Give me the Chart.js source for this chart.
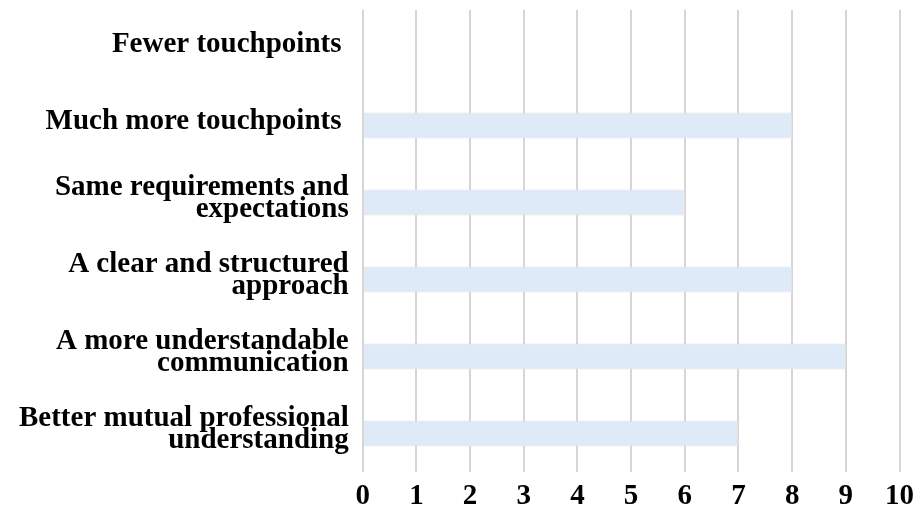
<!DOCTYPE html>
<html>
<head>
<meta charset="utf-8">
<script src="https://cdn.jsdelivr.net/npm/chart.js@4"></script>
<style>
  html, body { margin: 0; padding: 0; background: #fff; }
  #wrap { width: 924px; height: 521px; }
</style>
</head>
<body>
<div id="wrap"><canvas id="myChart"></canvas></div>
<script>
// answers, top to bottom (multi-line labels split into rows)
const categories = [
    ['Fewer touchpoints '],
    ['Much more touchpoints '],
    ['Same requirements and', 'expectations'],
    ['A clear and structured', 'approach'],
    ['A more understandable', 'communication'],
    ['Better mutual professional', 'understanding']
]
const counts = [0, 8, 6, 8, 9, 7]
const xTicks = [0, 1, 2, 3, 4, 5, 6, 7, 8, 9, 10]

const serif = '"Liberation Serif", "Times New Roman", serif'

const ctx = document.getElementById('myChart').getContext('2d')

new Chart(ctx, {
    type: 'bar',
    data: {
        labels: categories,
        datasets: [{
            data: counts,
            backgroundColor: '#deeaf7',
            borderColor: '#e2e2e2',
            borderWidth: 1,
            borderSkipped: false,
            barPercentage: 0.34,
            categoryPercentage: 1
        }]
    },
    options: {
        indexAxis: 'y',
        responsive: true,
        maintainAspectRatio: false,
        animation: false,
        layout: { padding: { top: 10, right: 18, bottom: 0, left: 5 } },
        plugins: {
            legend: { display: false },
            tooltip: { enabled: false }
        },
        scales: {
            x: {
                min: 0,
                max: 10,
                afterBuildTicks: axis => { axis.ticks = xTicks.map(v => ({ value: v })) },
                grid: { color: '#d6d6d6', lineWidth: 2, drawTicks: false },
                border: { display: false },
                ticks: { color: '#000', font: { family: serif, size: 29, weight: 'bold', lineHeight: 1.0 }, padding: 10 }
            },
            y: {
                grid: { display: false, drawTicks: false },
                border: { display: false },
                ticks: {
                    color: '#000',
                    font: { family: serif, size: 29, weight: 'bold', lineHeight: 0.73 },
                    padding: 14,
                    labelOffset: -4
                },
                // let the first and last rows reach the plot edges
                afterFit: scale => { scale.paddingTop = 0; scale.paddingBottom = 0 }
            }
        }
    }
})
</script>
</body>
</html>
